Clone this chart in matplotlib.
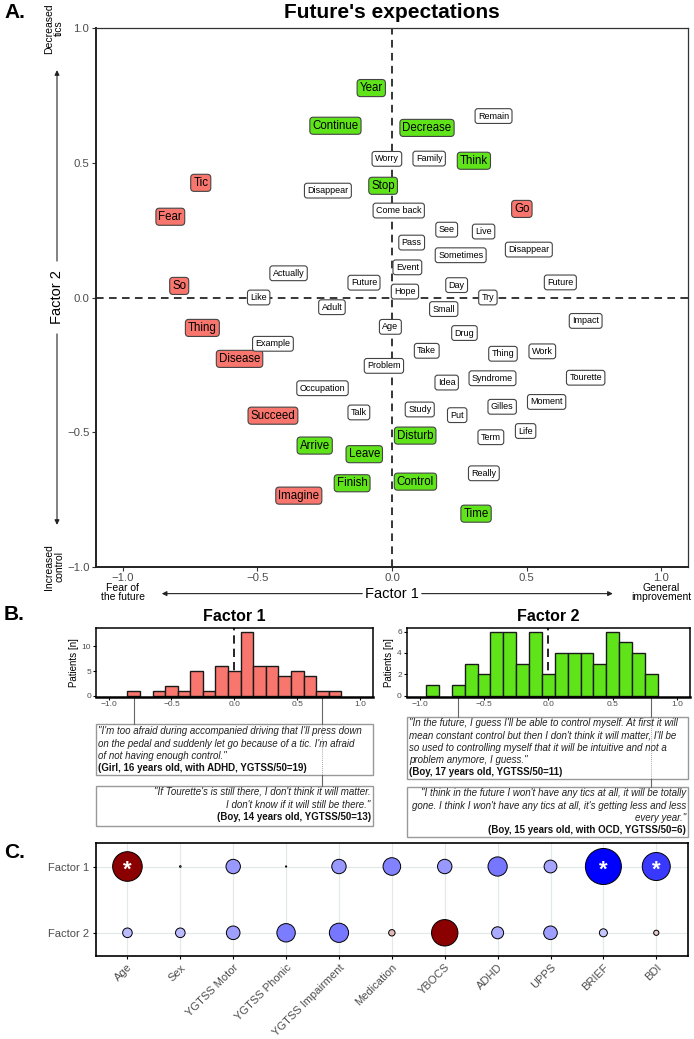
import numpy as np
import matplotlib
matplotlib.use("Agg")
import matplotlib.pyplot as plt
import matplotlib.transforms as mtransforms
from matplotlib.colors import LinearSegmentedColormap, TwoSlopeNorm
from matplotlib.patches import Rectangle

plt.rcParams['font.family'] = ['Liberation Sans', 'DejaVu Sans']

# --- 1. Data ---
# Panel A: word loadings (Factor 1 = x, Factor 2 = y), group: v=green, r=red, b=white
words = ['Year', 'Continue', 'Decrease', 'Think', 'Stop', 'Arrive', 'Leave', 'Finish',
         'Disturb', 'Control', 'Time',
         'Tic', 'Fear', 'So', 'Go', 'Thing', 'Disease', 'Succeed', 'Imagine',
         'Remain', 'Worry', 'Family', 'Disappear', 'Come back', 'See', 'Live', 'Pass',
         'Sometimes', 'Disappear', 'Event', 'Actually', 'Future', 'Hope', 'Day', 'Future',
         'Try', 'Like', 'Adult', 'Small', 'Age', 'Impact', 'Drug', 'Example', 'Take',
         'Thing', 'Work', 'Problem', 'Idea', 'Syndrome', 'Tourette', 'Occupation', 'Talk',
         'Study', 'Put', 'Gilles', 'Moment', 'Term', 'Life', 'Really']
f1 = [-0.077, -0.21, 0.13, 0.304, -0.033, -0.287, -0.103, -0.148, 0.086, 0.087, 0.312,
      -0.71, -0.823, -0.79, 0.482, -0.704, -0.566, -0.442, -0.346,
      0.377, -0.019, 0.138, -0.238, 0.025, 0.203, 0.34, 0.073, 0.255, 0.508, 0.057,
      -0.384, -0.104, 0.048, 0.24, 0.625, 0.356, -0.495, -0.223, 0.192, -0.006, 0.719,
      0.269, -0.442, 0.129, 0.412, 0.558, -0.03, 0.203, 0.373, 0.719, -0.258, -0.123,
      0.103, 0.242, 0.409, 0.574, 0.367, 0.496, 0.341]
f2 = [0.778, 0.638, 0.630, 0.508, 0.415, -0.55, -0.582, -0.69, -0.513, -0.684, -0.803,
      0.426, 0.30, 0.043, 0.329, -0.113, -0.228, -0.439, -0.736,
      0.674, 0.515, 0.516, 0.397, 0.323, 0.252, 0.245, 0.204, 0.157, 0.178, 0.112,
      0.09, 0.055, 0.022, 0.046, 0.056, 0.0, 0.0, -0.036, -0.043, -0.109, -0.087,
      -0.132, -0.172, -0.198, -0.209, -0.2, -0.254, -0.316, -0.30, -0.298, -0.337, -0.427,
      -0.416, -0.437, -0.406, -0.388, -0.519, -0.496, -0.653]
groups = ['v'] * 11 + ['r'] * 8 + ['b'] * 40

# Panel B: histograms of patient scores (bin centres, counts)
h1_centres = [-0.8, -0.7, -0.6, -0.5, -0.4, -0.3, -0.2, -0.1, 0.0, 0.1, 0.2, 0.3, 0.4,
              0.5, 0.6, 0.7, 0.8]
h1_counts = [1, 0, 1, 2, 1, 5, 1, 6, 5, 13, 6, 6, 4, 5, 4, 1, 1]
h2_centres = [-0.9, -0.8, -0.7, -0.6, -0.5, -0.4, -0.3, -0.2, -0.1, 0.0, 0.1, 0.2, 0.3,
              0.4, 0.5, 0.6, 0.7, 0.8]
h2_counts = [1, 0, 1, 3, 2, 6, 6, 3, 6, 2, 4, 4, 4, 3, 6, 5, 4, 2]
# patients quoted (score on each factor)
quoted_f1 = [-0.8, 0.7]
quoted_f2 = [-0.7, 0.8]

quote1 = ['"I\'m too afraid during accompanied driving that I\'ll press down',
          'on the pedal and suddenly let go because of a tic. I\'m afraid',
          'of not having enough control."']
who1 = '(Girl, 16 years old, with ADHD, YGTSS/50=19)'
quote2 = ['"If Tourette\'s is still there, I don\'t think it will matter.',
          'I don\'t know if it will still be there."']
who2 = '(Boy, 14 years old, YGTSS/50=13)'
quote3 = ['"In the future, I guess I\'ll be able to control myself. At first it will',
          'mean constant control but then I don\'t think it will matter, I\'ll be',
          'so used to controlling myself that it will be intuitive and not a',
          'problem anymore, I guess."']
who3 = '(Boy, 17 years old, YGTSS/50=11)'
quote4 = ['"I think in the future I won\'t have any tics at all, it will be totally',
          'gone. I think I won\'t have any tics at all, it\'s getting less and less',
          'every year."']
who4 = '(Boy, 15 years old, with OCD, YGTSS/50=6)'

# Panel C: correlations of factor scores with clinical variables
variables = ['Age', 'Sex', 'YGTSS Motor', 'YGTSS Phonic', 'YGTSS Impairment', 'Medication',
             'YBOCS', 'ADHD', 'UPPS', 'BRIEF', 'BDI']
r_f1 = [0.37, 0.02, -0.18, -0.015, -0.18, -0.22, -0.18, -0.24, -0.16, -0.45, -0.35]
r_f2 = [-0.12, -0.12, -0.17, -0.23, -0.24, 0.08, 0.33, -0.15, -0.17, -0.10, 0.065]
sig_f1 = [True, False, False, False, False, False, False, False, False, True, True]
sig_f2 = [False] * 11

RED = '#F8766D'
GREEN = '#5FE41A'
GREY_TXT = '#4D4D4D'

# --- 2. Figure and layout helpers (pixel boxes) ---
W, H = 694, 1039
fig = plt.figure(figsize=(W / 100, H / 100), dpi=100)


def box(left, top, right, bottom):
    return [left / W, 1 - bottom / H, (right - left) / W, (bottom - top) / H]


canvas = fig.add_axes([0, 0, 1, 1])
canvas.set_xlim(0, W)
canvas.set_ylim(H, 0)
canvas.axis('off')

canvas.text(4, 13, 'A.', fontsize=15, fontweight='bold', va='center')
canvas.text(4, 615, 'B.', fontsize=15, fontweight='bold', va='center')
canvas.text(4, 852, 'C.', fontsize=15, fontweight='bold', va='center')
canvas.text(392, 13, "Future's expectations", fontsize=15, fontweight='bold',
            ha='center', va='center')

# --- 3. Panel A ---
ax = fig.add_axes(box(95.7, 28.3, 688.3, 566.7))
ax.set_xlim(-1.1, 1.1)
ax.set_ylim(-1, 1)
ax.axhline(0, color='black', ls=(0, (5, 3.5)), lw=1.1, zorder=1)
ax.axvline(0, color='black', ls=(0, (5, 3.5)), lw=1.1, zorder=1)

for w, x, y, g in zip(words, f1, f2, groups):
    if g == 'v':
        fc, fs, pad = GREEN, 8.3, 0.22
    elif g == 'r':
        fc, fs, pad = RED, 8.3, 0.22
    else:
        fc, fs, pad = 'white', 6.5, 0.32
    ax.text(x, y, w, ha='center', va='center', fontsize=fs, zorder=3,
            bbox=dict(boxstyle=f'round,pad={pad},rounding_size=0.3', fc=fc,
                      ec='#444444', lw=0.8))

for side in ['left', 'bottom']:
    ax.spines[side].set_linewidth(1.4)
    ax.spines[side].set_color('#222222')
for side in ['top', 'right']:
    ax.spines[side].set_linewidth(0.9)
    ax.spines[side].set_color('#333333')
ax.set_xticks([-1, -0.5, 0, 0.5, 1])
ax.set_yticks([-1, -0.5, 0, 0.5, 1])
ax.set_xticklabels(['\u22121.0', '\u22120.5', '0.0', '0.5', '1.0'])
ax.set_yticklabels(['\u22121.0', '\u22120.5', '0.0', '0.5', '1.0'])
ax.tick_params(labelsize=8.2, labelcolor=GREY_TXT, length=3, color='#333333', pad=1.5)

# axis names with arrows
tx = mtransforms.blended_transform_factory(ax.transData, ax.transAxes)
ty = mtransforms.blended_transform_factory(ax.transAxes, ax.transData)
arrow = dict(arrowstyle='-|>', color='#222222', lw=0.8, mutation_scale=7)
ax.text(0, -0.05, 'Factor 1', transform=tx, ha='center', va='center', fontsize=10.5)
ax.annotate('', xy=(-0.865, -0.05), xytext=(-0.1, -0.05), xycoords=tx,
            textcoords=tx, arrowprops=arrow, annotation_clip=False)
ax.annotate('', xy=(0.83, -0.05), xytext=(0.1, -0.05), xycoords=tx,
            textcoords=tx, arrowprops=arrow, annotation_clip=False)
ax.text(-1, -0.030, 'Fear of\nthe future', transform=tx, ha='center', va='top',
        fontsize=7.5, linespacing=0.95)
ax.text(1, -0.030, 'General\nimprovement', transform=tx, ha='center', va='top',
        fontsize=7.5, linespacing=0.95)

ax.text(-0.0653, 0, 'Factor 2', transform=ty, ha='center', va='center', fontsize=10.5,
        rotation=90)
ax.annotate('', xy=(-0.0653, 0.855), xytext=(-0.0653, 0.125), xycoords=ty,
            textcoords=ty, arrowprops=arrow, annotation_clip=False)
ax.annotate('', xy=(-0.0653, -0.855), xytext=(-0.0653, -0.125), xycoords=ty,
            textcoords=ty, arrowprops=arrow, annotation_clip=False)
ax.text(-0.07, 1.0, 'Decreased\ntics', transform=ty, ha='center', va='center',
        fontsize=7.5, rotation=90, linespacing=0.95)
ax.text(-0.07, -1.0, 'Increased\ncontrol', transform=ty, ha='center', va='center',
        fontsize=7.5, rotation=90, linespacing=0.95)

# --- 4. Panel B: histograms + quotes ---
QFONT = ['Liberation Sans Narrow', 'Liberation Sans', 'DejaVu Sans']


def draw_quote(left, top, right, bottom, lines, who, align, y0, step):
    canvas.add_patch(Rectangle((left, top), right - left, bottom - top, fc='white',
                               ec='#999999', lw=1.0, zorder=1))
    xt = left + 2 if align == 'left' else right - 2
    for i, line in enumerate(lines):
        canvas.text(xt, y0 + i * step, line, ha=align, va='center', fontsize=7,
                    style='italic', color='#222222', family=QFONT)
    canvas.text(xt, y0 + len(lines) * step, who, ha=align, va='center', fontsize=7,
                fontweight='bold', color='#111111', family=QFONT)


hist_specs = [
    (box(96, 628.3, 372.7, 696.5), h1_centres, h1_counts, RED, (-0.15, 13.65),
     [0, 5, 10], 'Factor 1', quoted_f1),
    (box(406.7, 628.3, 690, 696.5), h2_centres, h2_counts, GREEN, (-0.07, 6.3),
     [0, 2, 4, 6], 'Factor 2', quoted_f2),
]
draw_quote(95.7, 724.3, 372.7, 775, quote1, who1, 'left', 731.5, 12.3)
draw_quote(95.7, 786, 372.7, 825.7, quote2, who2, 'right', 792, 12.5)
draw_quote(407.3, 717.3, 688.3, 779.3, quote3, who3, 'left', 723.3, 12.25)
draw_quote(407.3, 786.7, 688.3, 836.7, quote4, who4, 'right', 793.3, 12.25)
quote_tops = [(724.3, 775, 786), (717.3, 779.3, 786.7)]

for (rect, centres, counts, col, ylim, yt, title, quoted), (t1, b1, t2) in zip(hist_specs, quote_tops):
    axh = fig.add_axes(rect)
    c = np.array(centres)
    n = np.array(counts)
    keep = n > 0
    axh.axvline(0, color='black', ls=(0, (5, 3)), lw=1.2, zorder=1)
    axh.bar(c[keep], n[keep], width=0.1, color=col, edgecolor='#1a1a1a', lw=1.0, zorder=2)
    axh.set_xlim(-1.1, 1.1)
    axh.set_ylim(*ylim)
    axh.set_xticks([-1, -0.5, 0, 0.5, 1])
    axh.set_xticklabels(['\u22121.0', '\u22120.5', '0.0', '0.5', '1.0'])
    axh.set_yticks(yt)
    axh.tick_params(labelsize=6, labelcolor=GREY_TXT, length=2, pad=1.5)
    for s in axh.spines.values():
        s.set_linewidth(1.1)
    axh.spines['bottom'].set_linewidth(1.8)
    axh.set_ylabel('Patients [n]', fontsize=7, labelpad=2)
    axh.set_title(title, fontsize=11.5, fontweight='bold', pad=5)

    # lines linking the quoted patients to their quote boxes
    bot_px, top_px = 696.5, 628.3
    fy = lambda p: (bot_px - p) / (bot_px - top_px)
    tr = mtransforms.blended_transform_factory(axh.transData, axh.transAxes)
    axh.plot([quoted[0]] * 2, [0, fy(t1)], transform=tr, clip_on=False, color='#666666', lw=0.8)
    axh.plot([quoted[1]] * 2, [0, fy(t1)], transform=tr, clip_on=False, color='#666666', lw=0.8)
    axh.plot([quoted[1]] * 2, [fy(t1), fy(b1)], transform=tr, clip_on=False, color='#888888',
             lw=0.6, ls=(0, (1, 1.5)))
    axh.plot([quoted[1]] * 2, [fy(b1), fy(t2)], transform=tr, clip_on=False, color='#666666', lw=0.8)

# --- 5. Panel C: correlation bubbles ---
axc = fig.add_axes(box(95.7, 843.3, 688, 956))
xs = np.arange(len(variables))
axc.set_xlim(-0.6, len(variables) - 0.4)
axc.set_ylim(2.35, 0.65)
axc.grid(True, color='#E3E8E8', lw=0.9)
axc.set_axisbelow(True)

cmap = LinearSegmentedColormap.from_list('corr', ['#0000FF', '#FFFFFF', '#8B0000'])
norm = TwoSlopeNorm(vmin=-0.45, vcenter=0, vmax=0.3)
for row, (r, sig) in enumerate([(r_f1, sig_f1), (r_f2, sig_f2)], start=1):
    r = np.array(r)
    axc.scatter(xs, np.full(len(xs), row), s=(57.6 * np.abs(r)) ** 2, c=cmap(norm(r)),
                edgecolors='black', linewidths=0.7, zorder=3)
    for x, s in zip(xs, sig):
        if s:
            axc.text(x, row + 0.05, '*', color='white', fontsize=16, fontweight='bold',
                     ha='center', va='center', zorder=4)

axc.set_xticks(xs)
axc.set_xticklabels(variables, rotation=45, ha='right', rotation_mode='anchor')
axc.set_yticks([1, 2])
axc.set_yticklabels(['Factor 1', 'Factor 2'])
axc.tick_params(labelsize=8, labelcolor=GREY_TXT, length=2.5, pad=2)
for s in axc.spines.values():
    s.set_linewidth(1.2)

fig.savefig('out.png', dpi=100)
